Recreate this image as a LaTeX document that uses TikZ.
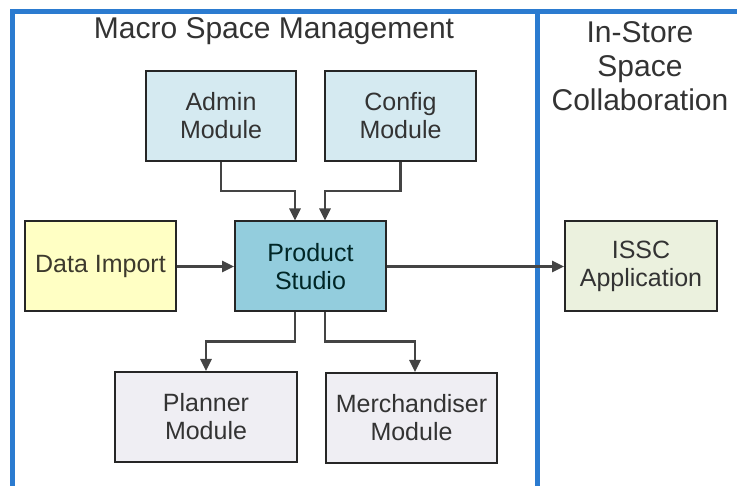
\documentclass[tikz,border=0pt]{standalone}
\usepackage{fontspec}
\setmainfont{Liberation Sans}
\usetikzlibrary{arrows.meta}
\definecolor{framec}{HTML}{2B7BD0}
\definecolor{adminc}{HTML}{D5EAF1}
\definecolor{psc}{HTML}{93CDDD}
\definecolor{datac}{HTML}{FFFFC4}
\definecolor{isscc}{HTML}{EBF1DE}
\definecolor{planc}{HTML}{EFEEF3}
\definecolor{linec}{HTML}{444444}
\definecolor{txtc}{HTML}{333333}
\tikzset{
  frameline/.style={draw=framec, line width=5pt},
  box/.style={draw=black!85, line width=2pt, minimum height=90pt, inner sep=0pt,
    align=center, text=txtc, font=\fontsize{25}{28}\selectfont},
  conn/.style={draw=linec, line width=2.5pt, -{Triangle[length=12pt,width=11pt]}},
  header/.style={text=txtc, align=center, font=\fontsize{30}{34}\selectfont, inner sep=0pt}
}
\begin{document}
\begin{tikzpicture}[x=1pt,y=-1pt]
\useasboundingbox (0,0) rectangle (737,486);
% frame
\draw[frameline] (12,486) -- (12,12) -- (737,12);
\draw[frameline] (537,12) -- (537,486);
% headers
\node[header] (t1) at (274,31) {Macro Space Management};
\node[header] (t2) at (640,66) {In-Store\\Space\\Collaboration};
% boxes
\node[box, fill=adminc, minimum width=150pt] (admin) at (221,116) {Admin\\Module};
\node[box, fill=adminc, minimum width=151pt] (config) at (400.5,116) {Config\\Module};
\node[box, fill=datac, minimum width=151pt, text=black!75!olive] (data) at (100.5,266.5) {Data Import};
\node[box, fill=psc, minimum width=151pt, text=black!70!teal] (ps) at (310.5,266.5) {Product\\Studio};
\node[box, fill=isscc, minimum width=152pt] (issc) at (641,266.5) {ISSC\\Application};
\node[box, fill=planc, minimum width=182pt] (planner) at (206,417) {Planner\\Module};
\node[box, fill=planc, minimum width=171pt] (merch) at (411.5,418) {Merchandiser\\Module};
% connectors
\draw[conn] (admin.south) -- ++(0,29) -| ([xshift=61pt]ps.north west);
\draw[conn] (config.south) -- ++(0,29) -| ([xshift=91pt]ps.north west);
\draw[conn] ([xshift=61pt]ps.south west) -- ++(0,29) -| (planner.north);
\draw[conn] ([xshift=91pt]ps.south west) -- ++(0,29) -| ([xshift=90pt]merch.north west);
\draw[conn] (data.east) -- (ps.west);
\draw[conn] (ps.east) -- (issc.west);
\end{tikzpicture}
\end{document}
